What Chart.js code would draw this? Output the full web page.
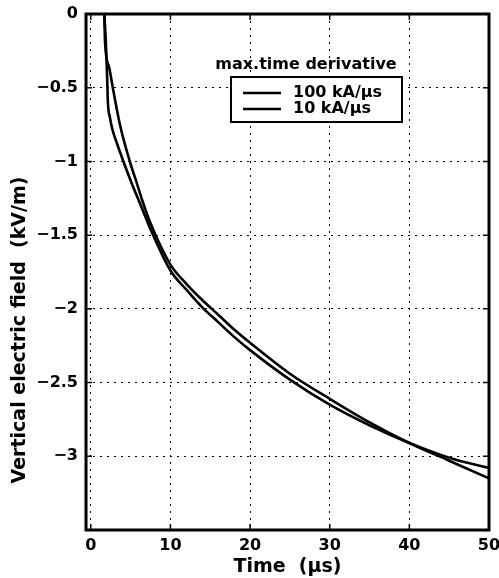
<!DOCTYPE html>
<html>
<head>
<meta charset="utf-8">
<script src="https://cdn.jsdelivr.net/npm/chart.js@4/dist/chart.umd.min.js"></script>
<style>
  html, body { margin: 0; padding: 0; background: #fff; }
  canvas { display: block; }
</style>
</head>
<body>
<canvas id="field" width="499" height="578"></canvas>
<script>
// values
const timesA = [1.7, 1.9, 2.05, 2.15, 2.4, 2.7, 3.3, 4.1, 5.3, 6.3, 7.5, 10, 12, 14, 16, 18, 20, 25, 30, 35, 40, 45, 50];
const fieldA = [0, -0.2, -0.42, -0.6, -0.7, -0.78, -0.88, -1.0, -1.17, -1.3, -1.46, -1.74, -1.87, -1.99, -2.09, -2.19, -2.28, -2.48, -2.65, -2.79, -2.91, -3.01, -3.08];

const timesB = [1.7, 1.8, 2.3, 2.8, 3.7, 4.9, 5.8, 6.5, 7.5, 10, 12, 14, 16, 18, 20, 25, 30, 35, 40, 45, 50];
const fieldB = [0, -0.2, -0.36, -0.51, -0.76, -1.0, -1.15, -1.27, -1.42, -1.70, -1.83, -1.94, -2.04, -2.14, -2.23, -2.44, -2.61, -2.77, -2.91, -3.03, -3.15];

const seriesLabels = ['100 kA/\u00b5s', '10 kA/\u00b5s'];
const legendTitle = 'max.time derivative';
const xTicks = [0, 10, 20, 30, 40, 50];
const yTicks = [0, -0.5, -1, -1.5, -2, -2.5, -3];
const xTitle = 'Time  (\u00b5s)';
const yTitle = 'Vertical electric field  (kV/m)';

const FONT = '"DejaVu Sans", sans-serif';

function toPoints(ts, vs) {
  return ts.map((t, i) => ({ x: t, y: vs[i] }));
}

// frame, inward ticks, legend box and y title, matlab style
const decorations = {
  id: 'decorations',
  afterDatasetsDraw(chart) {
    const ctx = chart.ctx;
    const a = chart.chartArea;
    const xs = chart.scales.x, ys = chart.scales.y;
    ctx.save();

    // legend
    ctx.fillStyle = '#000';
    ctx.font = 'bold 16px ' + FONT;
    ctx.textAlign = 'center';
    ctx.textBaseline = 'middle';
    ctx.fillText(legendTitle, 306, 65);

    const bx = 231, by = 77, bw = 171, bh = 45;
    ctx.fillStyle = '#fff';
    ctx.fillRect(bx, by, bw, bh);
    ctx.strokeStyle = '#000';
    ctx.lineWidth = 2;
    ctx.strokeRect(bx, by, bw, bh);
    ctx.textAlign = 'left';
    seriesLabels.forEach((lab, i) => {
      const ly = 93 + i * 16;
      ctx.lineWidth = 2.5;
      ctx.beginPath();
      ctx.moveTo(243, ly);
      ctx.lineTo(281, ly);
      ctx.stroke();
      ctx.fillStyle = '#000';
      ctx.fillText(lab, 293, ly);
    });

    // frame
    ctx.lineWidth = 3;
    ctx.strokeRect(a.left, a.top, a.right - a.left, a.bottom - a.top);

    // inward ticks
    ctx.lineWidth = 1.5;
    ctx.beginPath();
    xs.ticks.forEach(t => {
      const px = xs.getPixelForValue(t.value);
      ctx.moveTo(px, a.bottom); ctx.lineTo(px, a.bottom - 6);
      ctx.moveTo(px, a.top); ctx.lineTo(px, a.top + 6);
    });
    ys.ticks.forEach(t => {
      const py = ys.getPixelForValue(t.value);
      ctx.moveTo(a.left, py); ctx.lineTo(a.left + 6, py);
      ctx.moveTo(a.right, py); ctx.lineTo(a.right - 6, py);
    });
    ctx.stroke();

    // y title
    ctx.translate(20, 330);
    ctx.rotate(-Math.PI / 2);
    ctx.font = 'bold 19px ' + FONT;
    ctx.textAlign = 'center';
    ctx.textBaseline = 'middle';
    ctx.fillStyle = '#000';
    ctx.fillText(yTitle, 0, 0);
    ctx.restore();
  }
};

new Chart(document.getElementById('field').getContext('2d'), {
  type: 'line',
  data: {
    datasets: [{
      label: seriesLabels[0],
      data: toPoints(timesA, fieldA),
      borderColor: '#000',
      borderWidth: 2.6,
      pointRadius: 0,
      fill: false,
      cubicInterpolationMode: 'monotone'
    }, {
      label: seriesLabels[1],
      data: toPoints(timesB, fieldB),
      borderColor: '#000',
      borderWidth: 2.6,
      pointRadius: 0,
      fill: false,
      cubicInterpolationMode: 'monotone'
    }]
  },
  options: {
    responsive: false,
    animation: false,
    layout: { padding: { top: 14, right: 10, left: 0, bottom: 0 } },
    plugins: {
      legend: { display: false },
      tooltip: { enabled: false }
    },
    scales: {
      x: {
        type: 'linear',
        min: -0.6,
        max: 50,
        afterBuildTicks: s => { s.ticks = xTicks.map(v => ({ value: v })); },
        afterFit: s => { s.height = 48; s.paddingRight = 0; s.paddingLeft = 0; },
        grid: { color: '#000', lineWidth: 1, drawTicks: false },
        border: { display: false, dash: [2, 5] },
        ticks: {
          color: '#000',
          font: { family: FONT, size: 16, weight: 'bold' },
          padding: 6,
          maxRotation: 0
        },
        title: {
          display: true,
          text: xTitle,
          color: '#000',
          font: { family: FONT, size: 19, weight: 'bold' },
          padding: 0
        }
      },
      y: {
        type: 'linear',
        min: -3.5,
        max: 0,
        afterBuildTicks: s => { s.ticks = yTicks.map(v => ({ value: v })); },
        afterFit: s => { s.width = 86; s.paddingTop = 0; s.paddingBottom = 0; },
        grid: { color: '#000', lineWidth: 1, drawTicks: false },
        border: { display: false, dash: [2, 5] },
        ticks: {
          color: '#000',
          font: { family: FONT, size: 16, weight: 'bold' },
          padding: 8,
          callback: v => v === 0 ? '0' : '\u2212' + Math.abs(v)
        }
      }
    }
  },
  plugins: [decorations]
});
</script>
</body>
</html>
